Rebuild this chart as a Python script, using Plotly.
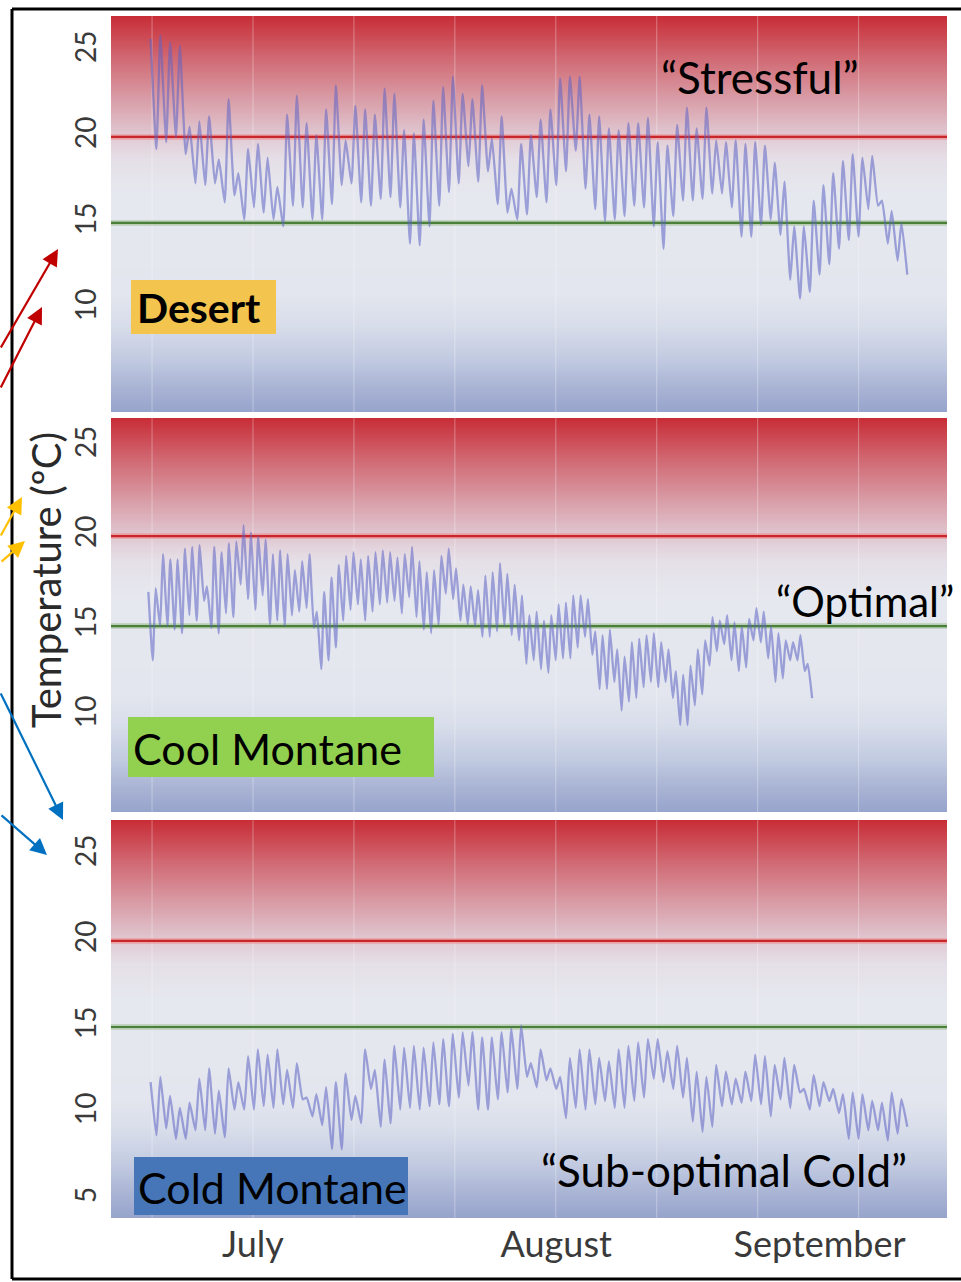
import numpy as np
import plotly.graph_objects as go

W, H = 961, 1282

# ---------------- data: daily maxima / minima of logged temperature (°C) ----------------
desert_high = [25.7, 25.9, 25.5, 25.3, 20.6, 20.9, 21.2, 18.7, 22.2, 17.9,
               19.3, 19.6, 18.8, 17.1, 21.3, 22.4, 20.8, 20.1, 21.6, 23.0,
               19.8, 21.8, 21.6, 21.3, 22.8, 22.5, 20.4, 20.2, 21.0, 22.1,
               22.9, 23.5, 22.5, 22.2, 23.0, 19.9, 21.2, 17.0, 19.6, 20.1,
               21.0, 21.6, 23.4, 23.5, 23.5, 21.3, 21.2, 20.5, 20.4, 20.8,
               20.8, 21.1, 19.7, 19.5, 20.7, 21.7, 20.5, 21.7, 19.8, 19.7,
               19.8, 19.6, 19.7, 19.5, 18.5, 17.4, 14.8, 14.8, 16.3, 17.2,
               17.9, 18.6, 19.0, 18.8, 18.9, 16.3, 15.7, 15.0]
desert_low = [19.3, 19.7, 20.0, 19.0, 17.3, 17.2, 17.3, 16.2, 16.6, 15.2,
              15.9, 15.6, 15.2, 14.8, 16.0, 15.9, 15.2, 15.2, 16.1, 17.2,
              17.3, 16.2, 16.0, 16.4, 16.5, 15.9, 13.8, 13.7, 14.8, 16.0,
              16.8, 17.3, 18.3, 17.4, 18.0, 16.1, 15.6, 15.2, 15.5, 16.5,
              16.2, 17.2, 18.0, 19.2, 17.0, 15.8, 15.1, 15.2, 15.4, 16.0,
              15.9, 14.8, 13.5, 15.4, 16.3, 16.3, 16.4, 16.7, 16.7, 15.9,
              14.2, 14.2, 14.9, 15.2, 14.3, 11.7, 10.6, 11.0, 12.0, 12.6,
              13.5, 14.0, 14.2, 15.8, 16.0, 13.8, 12.8, 12.0]

cool_high = [16.9, 17.1, 19.0, 18.7, 18.7, 19.3, 19.4, 19.5, 17.2, 19.4,
             19.1, 19.6, 19.7, 20.6, 20.2, 20.0, 19.8, 19.0, 19.2, 19.0,
             18.1, 18.6, 19.0, 15.8, 16.9, 17.7, 18.4, 18.9, 19.1, 18.7,
             18.9, 19.1, 19.2, 19.1, 18.8, 19.0, 19.4, 18.6, 18.0, 18.1,
             18.9, 19.3, 18.2, 17.3, 17.2, 17.0, 17.8, 18.0, 18.5, 17.9,
             17.3, 16.7, 15.6, 15.8, 15.3, 15.6, 16.2, 16.3, 16.7, 16.7,
             16.5, 14.7, 14.5, 14.8, 13.7, 13.3, 14.1, 14.3, 14.5, 14.6,
             14.1, 13.7, 12.5, 12.3, 12.8, 13.7, 14.2, 15.5, 15.3, 15.6,
             15.2, 15.0, 15.4, 16.0, 15.8, 15.0, 14.6, 14.2, 14.1, 14.5,
             12.9]
cool_low = [13.1, 15.0, 15.0, 14.8, 14.6, 15.6, 15.3, 16.4, 14.9, 14.6,
            15.7, 15.5, 17.3, 16.5, 15.9, 16.7, 15.1, 15.3, 15.0, 15.6,
            15.8, 16.0, 14.9, 12.6, 13.1, 13.8, 15.3, 15.9, 16.2, 15.3,
            15.8, 16.2, 16.3, 16.4, 15.7, 16.6, 15.5, 14.8, 14.6, 15.1,
            16.8, 16.5, 15.3, 15.1, 15.0, 14.4, 14.4, 14.7, 15.0, 14.5,
            14.2, 12.9, 13.1, 12.6, 12.4, 13.1, 13.2, 13.2, 13.8, 14.4,
            13.4, 11.5, 11.5, 11.9, 10.3, 10.8, 11.0, 11.6, 11.9, 11.6,
            11.9, 11.0, 9.5, 9.5, 10.6, 11.2, 12.8, 13.6, 14.0, 13.1,
            12.5, 12.7, 14.2, 14.1, 13.2, 11.9, 12.1, 13.1, 13.1, 12.5,
            11.0]

cold_high = [11.8, 12.1, 11.0, 10.3, 10.6, 12.0, 12.6, 11.3, 12.6, 11.8,
             13.3, 13.7, 13.4, 13.7, 12.5, 12.9, 10.9, 11.1, 11.5, 11.8,
             12.3, 11.0, 13.7, 12.5, 13.1, 13.9, 13.8, 13.9, 13.8, 14.1,
             14.3, 14.6, 14.7, 14.7, 14.4, 14.4, 14.7, 14.9, 15.1, 12.9,
             13.7, 12.6, 12.1, 13.2, 13.7, 13.7, 13.2, 13.0, 13.7, 13.9,
             14.1, 14.3, 14.3, 13.6, 13.9, 13.2, 12.4, 12.1, 12.8, 12.4,
             12.0, 12.4, 13.4, 13.3, 12.8, 13.2, 12.8, 11.4, 12.2, 11.8,
             11.4, 11.1, 11.2, 11.1, 10.7, 10.6, 11.2, 10.8]
cold_low = [8.7, 9.1, 8.5, 8.5, 9.0, 9.0, 8.8, 8.6, 10.2, 10.2,
            10.2, 10.4, 10.3, 10.5, 10.3, 10.8, 9.8, 9.3, 7.9, 7.9,
            9.6, 9.4, 11.4, 9.2, 9.4, 10.2, 10.3, 10.2, 10.4, 10.5,
            10.4, 10.9, 11.6, 10.2, 10.2, 10.8, 11.2, 11.4, 12.1, 11.5,
            11.9, 11.4, 9.7, 10.3, 10.2, 10.5, 10.7, 10.3, 10.3, 10.7,
            10.9, 12.0, 11.8, 11.4, 10.9, 9.5, 8.9, 9.2, 10.4, 10.5,
            10.6, 10.7, 10.5, 9.8, 10.8, 10.3, 11.2, 10.2, 10.4, 10.7,
            10.0, 8.5, 8.5, 9.0, 9.0, 8.4, 8.8, 9.2]

# thresholds (°C)
stress_limit = 20
optimal_limit = 15

month_labels = ["July", "August", "September"]
month_days = [10.5, 41.6, 68.6]          # days since first record

site_labels = ["Desert", "Cool Montane", "Cold Montane"]
zone_labels = ["\u201cStressful\u201d", "\u201cOptimal\u201d", "\u201cSub-optimal Cold\u201d"]

# ---------------- styling ----------------
FONT = "Lato"
X_RANGE = [-4.06, 81.67]
LINE_COLOR = "rgba(92,98,196,0.55)"

# background gradient, bottom (0) -> top (1) of each panel
grad_frac = [0.0, 0.06, 0.13, 0.22, 0.30, 0.55, 0.64, 0.70, 0.80, 0.90, 1.0]
grad_col = ["rgb(150,163,203)", "rgb(168,179,212)", "rgb(192,201,224)",
            "rgb(216,221,234)", "rgb(227,230,238)", "rgb(230,232,239)",
            "rgb(229,223,231)", "rgb(224,200,210)", "rgb(216,153,163)",
            "rgb(208,102,112)", "rgb(200,45,55)"]


def px_x(p):
    return p / W


def px_y(p):
    return 1 - p / H


def diurnal(highs, lows, start, step, fall=0.6):
    """Alternate daily max and min into one continuous trace."""
    t, v = [], []
    for i, (hi, lo) in enumerate(zip(highs, lows)):
        t += [start + i * step, start + (i + fall) * step]
        v += [hi, lo]
    return t, v


panels = [
    dict(high=desert_high, low=desert_low, start=0.0, step=1.0,
         yrange=[4.01, 27.03], dom=(16, 412), ticks=[10, 15, 20, 25]),
    dict(high=cool_high, low=cool_low, start=-0.23, step=0.7513,
         yrange=[4.67, 26.56], dom=(418, 812), ticks=[10, 15, 20, 25]),
    dict(high=cold_high, low=cold_low, start=0.0, step=1.0,
         yrange=[3.90, 27.03], dom=(820, 1218), ticks=[5, 10, 15, 20, 25]),
]

grid_days = [0.15, 10.5, 20.85, 31.2, 41.55, 51.9, 62.25, 72.6]

fig = go.Figure()
layout_axes = {}

for k, p in enumerate(panels):
    yname = "y" if k == 0 else f"y{k + 1}"
    lo, hi = p["yrange"]

    # gradient backdrop
    yy = np.linspace(lo - 0.5, hi + 0.5, 120)
    zz = [[(v - lo) / (hi - lo)] * 2 for v in yy]
    fig.add_trace(go.Heatmap(
        x=[X_RANGE[0] - 5, X_RANGE[1] + 5], y=yy, z=zz, zmin=0, zmax=1,
        colorscale=[[f, c] for f, c in zip(grad_frac, grad_col)],
        zsmooth="best", showscale=False, hoverinfo="skip", yaxis=yname))

    # faint vertical grid
    gx, gy = [], []
    for d in grid_days:
        gx += [d, d, None]
        gy += [lo - 1, hi + 1, None]
    fig.add_trace(go.Scatter(x=gx, y=gy, mode="lines", yaxis=yname,
                             line=dict(color="rgba(255,255,255,0.28)", width=1.2),
                             hoverinfo="skip", showlegend=False))

    # threshold lines
    for val, halo, core in [(stress_limit, "rgba(240,130,130,0.55)", "rgb(200,38,42)"),
                            (optimal_limit, "rgba(130,175,110,0.45)", "rgb(74,128,58)")]:
        fig.add_trace(go.Scatter(x=[X_RANGE[0] - 1, X_RANGE[1] + 1], y=[val, val],
                                 mode="lines", yaxis=yname, hoverinfo="skip",
                                 line=dict(color=halo, width=5.5), showlegend=False))
        fig.add_trace(go.Scatter(x=[X_RANGE[0] - 1, X_RANGE[1] + 1], y=[val, val],
                                 mode="lines", yaxis=yname, hoverinfo="skip",
                                 line=dict(color=core, width=2.2), showlegend=False))

    # temperature record
    t, v = diurnal(p["high"], p["low"], p["start"], p["step"])
    fig.add_trace(go.Scatter(x=t, y=v, mode="lines", yaxis=yname,
                             line=dict(color=LINE_COLOR, width=2.3,
                                       shape="spline", smoothing=0.45),
                             showlegend=False, name=site_labels[k]))

    top_px, bot_px = p["dom"]
    layout_axes["yaxis" if k == 0 else f"yaxis{k + 1}"] = dict(
        domain=[px_y(bot_px), px_y(top_px)], range=[lo, hi],
        tickvals=p["ticks"], ticktext=[str(t_) for t_ in p["ticks"]],
        tickangle=-90, tickfont=dict(family=FONT, size=28, color="#3a3a3a"),
        showgrid=False, zeroline=False, showline=False, ticks="",
        ticklabelstandoff=8, anchor="x", fixedrange=True)

fig.update_layout(
    width=W, height=H, margin=dict(l=0, r=0, t=0, b=0),
    paper_bgcolor="white", plot_bgcolor="white", showlegend=False,
    xaxis=dict(domain=[px_x(111), px_x(947)], range=X_RANGE, anchor="y3",
               tickvals=month_days, ticktext=month_labels, ticks="",
               tickfont=dict(family=FONT, size=36, color="#3a3a3a"),
               showgrid=False, zeroline=False, showline=False,
               ticklabelstandoff=2, fixedrange=True),
    **layout_axes,
)

# axis title
fig.add_annotation(x=px_x(46), y=px_y(580), xref="paper", yref="paper",
                   xanchor="center", yanchor="middle",
                   text="Temperature (\u00baC)", textangle=-90, showarrow=False,
                   font=dict(family=FONT, size=40, color="#2a2a2a"))

# site label boxes
boxes = [((131, 280, 276, 334), "rgb(243,196,78)"),
         ((128, 717, 434, 777), "rgb(146,208,80)"),
         ((134, 1157, 408, 1215), "rgb(70,118,184)")]
for (x0, y0, x1, y1), col in boxes:
    fig.add_shape(type="rect", xref="paper", yref="paper",
                  x0=px_x(x0), x1=px_x(x1), y0=px_y(y1), y1=px_y(y0),
                  fillcolor=col, line=dict(width=0), layer="above")

label_pos = [(135, 307, 41, True), (131, 748, 43, False), (136, 1187, 43, False)]
for txt, (x, y, s, bold) in zip(site_labels, label_pos):
    fig.add_annotation(x=px_x(x), y=px_y(y), xref="paper", yref="paper",
                       xanchor="left", yanchor="middle", showarrow=False,
                       text=f"<b>{txt}</b>" if bold else txt,
                       font=dict(family=FONT, size=s, color="black"))

zone_pos = [(659, 77, 44), (774, 601, 42), (539, 1170, 44)]
for txt, (x, y, s) in zip(zone_labels, zone_pos):
    fig.add_annotation(x=px_x(x), y=px_y(y), xref="paper", yref="paper",
                       xanchor="left", yanchor="middle", showarrow=False,
                       text=txt, font=dict(family=FONT, size=s, color="black"))

# pointer arrows entering from the left margin: (tip x, tip y, dx, dy, colour)
arrows = [(58, 249, -88, 100, "rgb(192,0,0)"),
          (42, 307, -72, 82, "rgb(192,0,0)"),
          (22, 497, -30, 40, "rgb(255,192,0)"),
          (25, 541, -55, 22, "rgb(255,192,0)"),
          (63, 820, -93, -128, "rgb(0,112,192)"),
          (47, 855, -77, -41, "rgb(0,112,192)")]
for x, y, dx, dy, col in arrows:
    fig.add_annotation(x=px_x(x), y=px_y(y), xref="paper", yref="paper",
                       ax=dx, ay=dy, text="", showarrow=True, arrowhead=2,
                       arrowsize=1.5, arrowwidth=2.2, arrowcolor=col)

# frame
for x0, y0, x1, y1 in [(12, 9, 12, 1279), (12, 9, 970, 9), (12, 1279, 970, 1279)]:
    fig.add_shape(type="line", xref="paper", yref="paper",
                  x0=px_x(x0), y0=px_y(y0), x1=px_x(x1), y1=px_y(y1),
                  line=dict(color="black", width=3), layer="above")

fig.write_html("out.html")
